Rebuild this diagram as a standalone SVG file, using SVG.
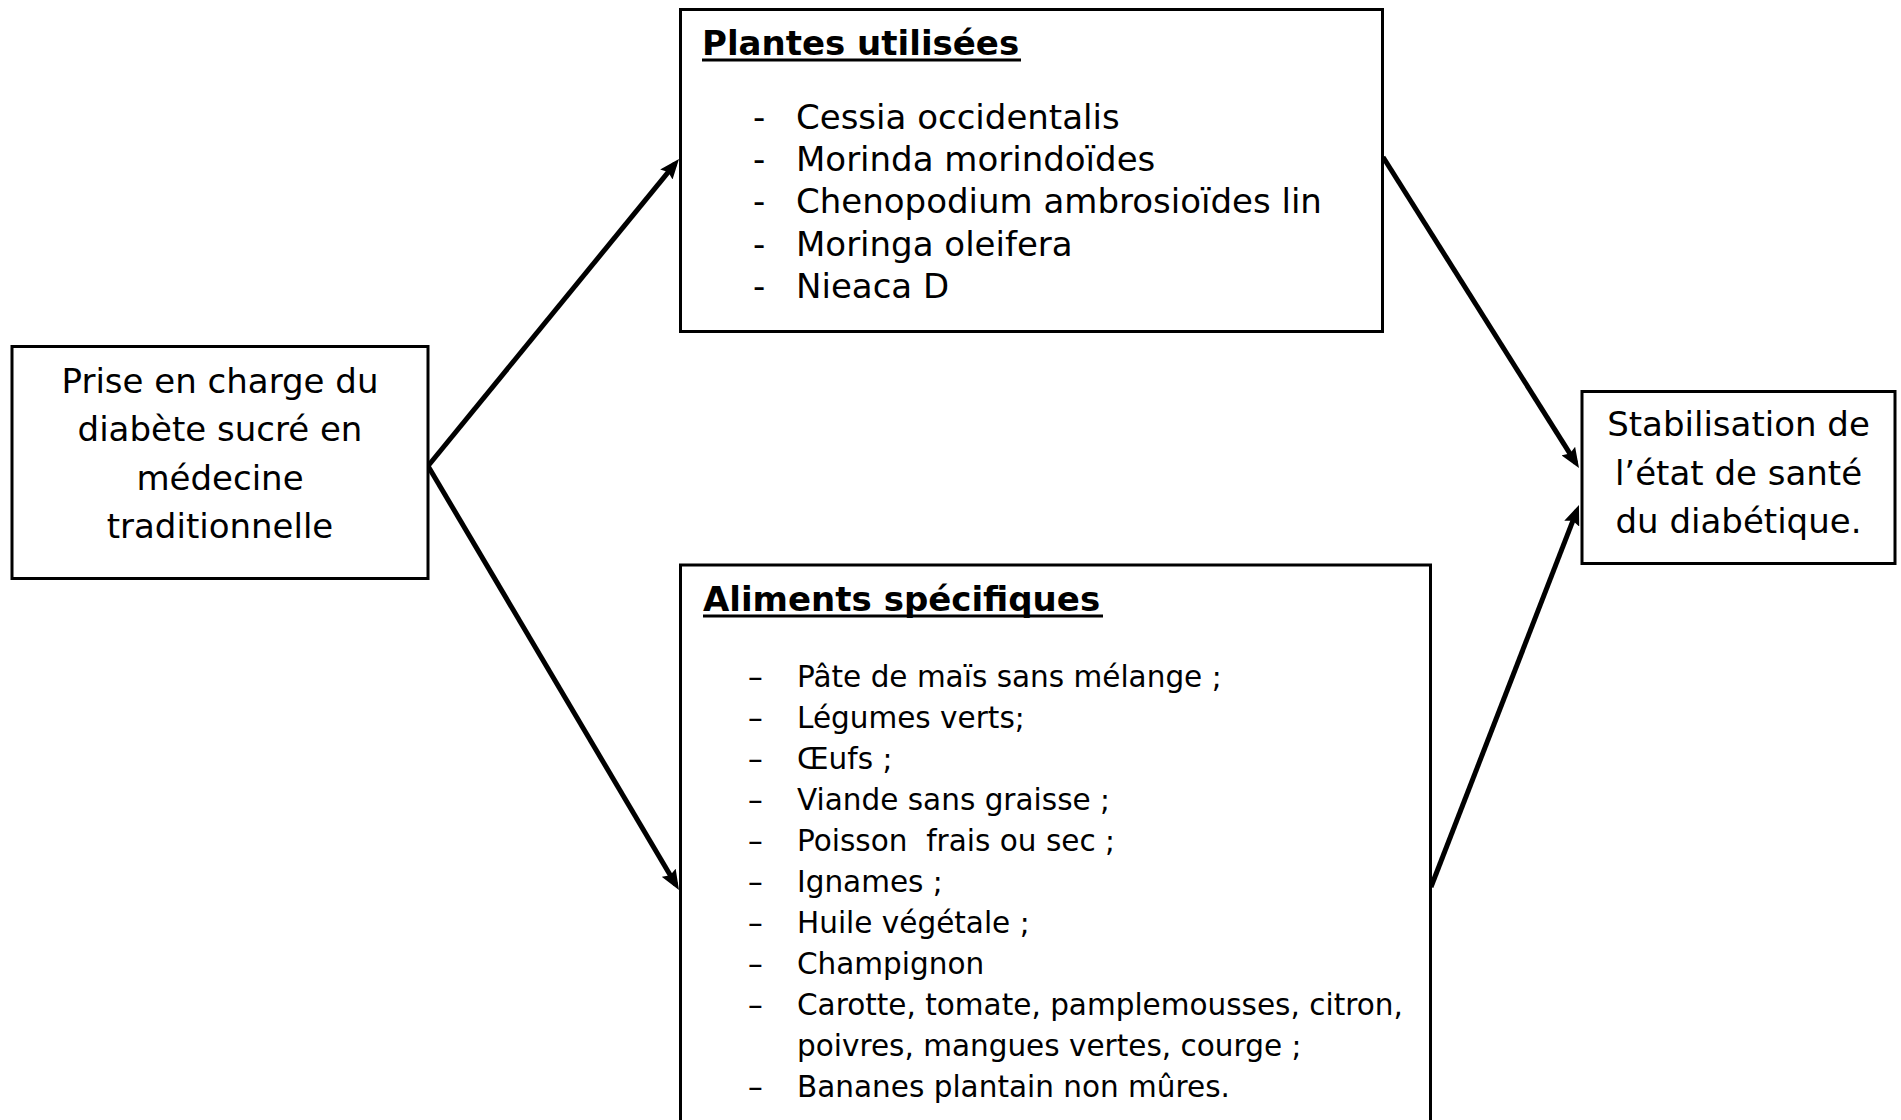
<svg xmlns="http://www.w3.org/2000/svg" width="1901" height="1120" viewBox="0 0 1901 1120">
<style>
.box{fill:#fff;stroke:#000;stroke-width:3}
.t{font-family:"DejaVu Sans","Verdana",sans-serif;font-size:34px;fill:#000}
.c{text-anchor:middle}
.b{font-weight:bold}
.s{font-size:29.5px}
.ul{stroke:#000;stroke-width:3}
.conn{stroke:#000;stroke-width:5;fill:none;marker-end:url(#ah)}
</style>
<defs>
<marker id="ah" viewBox="0 0 20 16" refX="14" refY="8" markerWidth="20" markerHeight="16" markerUnits="userSpaceOnUse" orient="auto">
<path d="M0,0 L20,8 L0,16 L3,8 z" fill="#000"/>
</marker>
</defs>
<rect width="1901" height="1120" fill="#fff"/>
<g id="connectors">
<line class="conn" x1="428" y1="466" x2="675.2" y2="163.6"/>
<line class="conn" x1="428" y1="466" x2="675.9" y2="884.8"/>
<line class="conn" x1="1383" y1="157" x2="1575.8" y2="462.9"/>
<line class="conn" x1="1431" y1="887" x2="1576.8" y2="510.6"/>
</g>
<g id="node-prise">
<rect class="box" x="12" y="346.5" width="416" height="232"/>
<text class="t c" x="220" y="393">Prise en charge du</text>
<text class="t c" x="220" y="441">diabète sucré en</text>
<text class="t c" x="220" y="490">médecine</text>
<text class="t c" x="220" y="538">traditionnelle</text>
</g>
<g id="node-plantes">
<rect class="box" x="680.5" y="9.5" width="702" height="322"/>
<text class="t b" x="702" y="55">Plantes utilisées</text>
<line class="ul" x1="702" y1="60" x2="1021" y2="60"/>
<text class="t" x="753" y="129">-</text><text class="t" x="796" y="129">Cessia occidentalis</text>
<text class="t" x="753" y="171">-</text><text class="t" x="796" y="171">Morinda morindoïdes</text>
<text class="t" x="753" y="213">-</text><text class="t" x="796" y="213">Chenopodium ambrosioïdes lin</text>
<text class="t" x="753" y="256">-</text><text class="t" x="796" y="256">Moringa oleifera</text>
<text class="t" x="753" y="298">-</text><text class="t" x="796" y="298">Nieaca D</text>
</g>
<g id="node-aliments">
<rect class="box" x="680.5" y="565" width="750" height="600"/>
<text class="t b" x="703" y="611">Aliments spécifiques</text>
<line class="ul" x1="703" y1="616" x2="1103" y2="616"/>
<g class="t s">
<text x="748" y="687">–</text><text x="797" y="687">Pâte de maïs sans mélange ;</text>
<text x="748" y="728">–</text><text x="797" y="728">Légumes verts;</text>
<text x="748" y="769">–</text><text x="797" y="769">Œufs ;</text>
<text x="748" y="810">–</text><text x="797" y="810">Viande sans graisse ;</text>
<text x="748" y="851">–</text><text x="797" y="851" xml:space="preserve">Poisson  frais ou sec ;</text>
<text x="748" y="892">–</text><text x="797" y="892">Ignames ;</text>
<text x="748" y="933">–</text><text x="797" y="933">Huile végétale ;</text>
<text x="748" y="974">–</text><text x="797" y="974">Champignon</text>
<text x="748" y="1015">–</text><text x="797" y="1015">Carotte, tomate, pamplemousses, citron,</text>
<text x="797" y="1056">poivres, mangues vertes, courge ;</text>
<text x="748" y="1097">–</text><text x="797" y="1097">Bananes plantain non mûres.</text>
</g>
</g>
<g id="node-stabilisation">
<rect class="box" x="1582" y="391.5" width="313" height="172"/>
<text class="t c" x="1738.5" y="436">Stabilisation de</text>
<text class="t c" x="1738.5" y="485">l’état de santé</text>
<text class="t c" x="1738.5" y="533">du diabétique.</text>
</g>
</svg>
